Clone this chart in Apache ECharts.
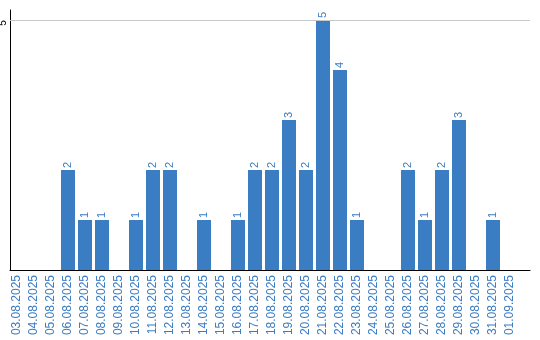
<!DOCTYPE html>
<html>
<head>
<meta charset="utf-8">
<script src="https://cdn.jsdelivr.net/npm/echarts@6/dist/echarts.min.js"></script>
<style>
  html, body { margin: 0; padding: 0; background: #fff; }
  #chart { width: 540px; height: 340px; }
</style>
</head>
<body>
<div id="chart"></div>
<script>
// days on the x axis
var days = ['03.08.2025', '04.08.2025', '05.08.2025', '06.08.2025', '07.08.2025', '08.08.2025',
  '09.08.2025', '10.08.2025', '11.08.2025', '12.08.2025', '13.08.2025', '14.08.2025',
  '15.08.2025', '16.08.2025', '17.08.2025', '18.08.2025', '19.08.2025', '20.08.2025',
  '21.08.2025', '22.08.2025', '23.08.2025', '24.08.2025', '25.08.2025', '26.08.2025',
  '27.08.2025', '28.08.2025', '29.08.2025', '30.08.2025', '31.08.2025', '01.09.2025']
// count per day
var counts = [0, 0, 0, 2, 1, 1, 0, 1, 2, 2, 0, 1, 0, 1, 2, 2, 3, 2, 5, 4, 1, 0, 0, 2, 1, 2, 3, 0, 1, 0]
// y axis: only the 5 gets a label and a grid line
var yMax = 5.2
var yTick = 5

var blue = '#3b7dc3'
var font = 'Liberation Sans, Arial, sans-serif'

var chart = echarts.init(document.getElementById('chart'))
chart.setOption({
  animation: false,
  grid: [
    // bars
    { left: 8.5, right: 21.5, top: 10, bottom: 70, outerBoundsMode: 'none', containLabel: false },
    // axis frame, a bit wider than the bars
    { left: 10, right: 10, top: 10, bottom: 70, outerBoundsMode: 'none', containLabel: false }
  ],
  xAxis: [
    {
      type: 'category',
      gridIndex: 0,
      data: days,
      axisLine: { show: false },
      axisTick: { show: false },
      axisLabel: {
        rotate: 90,
        interval: 0,
        margin: 5,
        color: blue,
        fontSize: 12,
        fontFamily: font
      }
    },
    {
      type: 'value',
      gridIndex: 1,
      min: 0,
      max: 1,
      axisLine: { show: true, lineStyle: { color: '#000', width: 1 } },
      axisTick: { show: false },
      axisLabel: { show: false },
      splitLine: { show: false }
    }
  ],
  yAxis: [
    { type: 'value', gridIndex: 0, min: 0, max: yMax, show: false },
    {
      type: 'value',
      gridIndex: 1,
      min: 0,
      max: yMax,
      interval: yTick,
      axisLine: { show: true, lineStyle: { color: '#000', width: 1 } },
      axisTick: { show: false },
      splitLine: { show: false },
      axisLabel: {
        rotate: 90,
        margin: 2,
        padding: [0, 6, 0, 0],
        color: '#000',
        fontSize: 10,
        fontFamily: font,
        formatter: function (v) { return v === yTick ? String(v) : '' }
      }
    }
  ],
  series: [
    {
      type: 'bar',
      xAxisIndex: 0,
      yAxisIndex: 0,
      data: counts,
      barWidth: 14,
      itemStyle: { color: blue },
      label: {
        show: true,
        position: 'top',
        rotate: 90,
        align: 'left',
        verticalAlign: 'middle',
        distance: 2,
        color: blue,
        fontSize: 11,
        fontFamily: font,
        formatter: function (p) { return p.value ? String(p.value) : '' }
      }
    },
    {
      // grid line at 5 across the full frame
      type: 'line',
      xAxisIndex: 1,
      yAxisIndex: 1,
      data: [],
      markLine: {
        silent: true,
        symbol: 'none',
        label: { show: false },
        lineStyle: { color: '#c8c8c8', type: 'solid', width: 1 },
        data: [{ yAxis: yTick }]
      }
    }
  ]
})
</script>
</body>
</html>
